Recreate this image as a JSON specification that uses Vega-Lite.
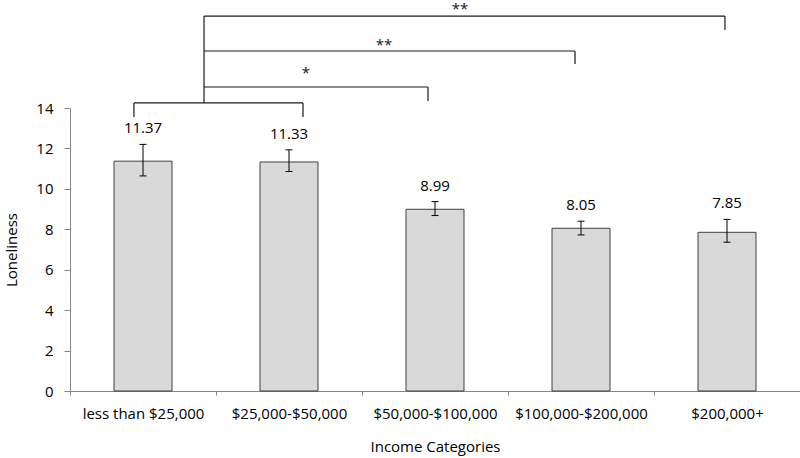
{
  "$schema": "https://vega.github.io/schema/vega-lite/v6.json",
  "width": 730,
  "height": 283,
  "autosize": "none",
  "padding": {"left": 70, "top": 108, "right": 0, "bottom": 67},
  "config": {
    "view": {"stroke": null},
    "font": "Open Sans",
    "axis": {"grid": false, "labelColor": "#000000", "titleColor": "#000000", "titleFontWeight": "normal", "labelFontSize": 15, "titleFontSize": 15, "domainColor": "#868686", "tickColor": "#868686"}
  },
  "datasets": {
    "bars": [
      {"pos": 0.5, "category": "less than $25,000", "mean": 11.37, "lo": 10.64, "hi": 12.2},
      {"pos": 1.5, "category": "$25,000-$50,000", "mean": 11.33, "lo": 10.86, "hi": 11.93},
      {"pos": 2.5, "category": "$50,000-$100,000", "mean": 8.99, "lo": 8.68, "hi": 9.37},
      {"pos": 3.5, "category": "$100,000-$200,000", "mean": 8.05, "lo": 7.72, "hi": 8.4},
      {"pos": 4.5, "category": "$200,000+", "mean": 7.85, "lo": 7.36, "hi": 8.49}
    ],
    "brackets": [
      {"x": 0.438, "y": 14.25, "x2": 1.596, "y2": 14.25},
      {"x": 0.438, "y": 14.25, "x2": 0.438, "y2": 13.56},
      {"x": 1.596, "y": 14.25, "x2": 1.596, "y2": 13.56},
      {"x": 0.918, "y": 14.25, "x2": 0.918, "y2": 18.55},
      {"x": 0.918, "y": 15.04, "x2": 2.452, "y2": 15.04},
      {"x": 2.452, "y": 15.04, "x2": 2.452, "y2": 14.35},
      {"x": 0.918, "y": 16.82, "x2": 3.459, "y2": 16.82},
      {"x": 3.459, "y": 16.82, "x2": 3.459, "y2": 16.18},
      {"x": 0.918, "y": 18.55, "x2": 4.486, "y2": 18.55},
      {"x": 4.486, "y": 18.55, "x2": 4.486, "y2": 17.86}
    ],
    "stars": [
      {"x": 1.616, "y": 15.49, "label": "*"},
      {"x": 2.151, "y": 16.89, "label": "**"},
      {"x": 2.671, "y": 18.66, "label": "**"}
    ]
  },
  "layer": [
    {
      "data": {"name": "bars"},
      "mark": {"type": "bar", "fill": "#d9d9d9", "stroke": "#404040", "strokeWidth": 1, "size": 58},
      "encoding": {
        "x": {
          "field": "pos", "type": "quantitative",
          "scale": {"domain": [0, 5], "nice": false, "zero": false, "padding": 0},
          "axis": {
            "title": "Income Categories",
            "values": [0, 0.5, 1, 1.5, 2, 2.5, 3, 3.5, 4, 4.5, 5],
            "labelExpr": "datum.value % 1 === 0.5 ? ['less than $25,000', '$25,000-$50,000', '$50,000-$100,000', '$100,000-$200,000', '$200,000+'][floor(datum.value)] : ''",
            "labelOverlap": false,
            "labelFlush": false,
            "labelBound": false,
            "tickSize": 4,
            "tickOpacity": {"condition": {"test": "datum.value % 1 !== 0", "value": 0}, "value": 1},
            "labelPadding": 11,
            "titlePadding": 18
          }
        },
        "y": {
          "field": "mean", "type": "quantitative",
          "scale": {"domain": [0, 14], "nice": false},
          "axis": {
            "title": "Loneliness",
            "values": [0, 2, 4, 6, 8, 10, 12, 14],
            "tickSize": 6,
            "labelPadding": 11,
            "titlePadding": 16
          }
        }
      }
    },
    {
      "data": {"name": "bars"},
      "mark": {"type": "rule", "color": "#000000", "strokeWidth": 1},
      "encoding": {
        "x": {"field": "pos", "type": "quantitative"},
        "y": {"field": "lo", "type": "quantitative"},
        "y2": {"field": "hi"}
      }
    },
    {
      "data": {"name": "bars"},
      "mark": {"type": "tick", "orient": "horizontal", "size": 7, "thickness": 1, "color": "#000000", "opacity": 1},
      "encoding": {
        "x": {"field": "pos", "type": "quantitative"},
        "y": {"field": "lo", "type": "quantitative"}
      }
    },
    {
      "data": {"name": "bars"},
      "mark": {"type": "tick", "orient": "horizontal", "size": 7, "thickness": 1, "color": "#000000", "opacity": 1},
      "encoding": {
        "x": {"field": "pos", "type": "quantitative"},
        "y": {"field": "hi", "type": "quantitative"}
      }
    },
    {
      "data": {"name": "bars"},
      "mark": {"type": "text", "fontSize": 15, "color": "#000000", "baseline": "middle", "dy": -16},
      "encoding": {
        "x": {"field": "pos", "type": "quantitative"},
        "y": {"field": "hi", "type": "quantitative"},
        "text": {"field": "mean", "type": "quantitative", "format": ".2f"}
      }
    },
    {
      "data": {"name": "brackets"},
      "mark": {"type": "rule", "color": "#1a1a1a", "strokeWidth": 1.2},
      "encoding": {
        "x": {"field": "x", "type": "quantitative"},
        "y": {"field": "y", "type": "quantitative"},
        "x2": {"field": "x2"},
        "y2": {"field": "y2"}
      }
    },
    {
      "data": {"name": "stars"},
      "mark": {"type": "text", "fontSize": 15, "color": "#1a1a1a", "baseline": "alphabetic"},
      "encoding": {
        "x": {"field": "x", "type": "quantitative"},
        "y": {"field": "y", "type": "quantitative"},
        "text": {"field": "label", "type": "nominal"}
      }
    }
  ]
}
